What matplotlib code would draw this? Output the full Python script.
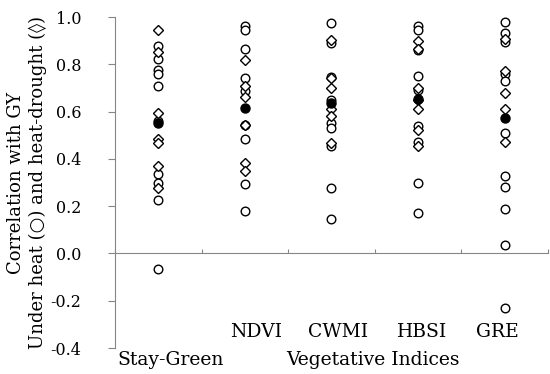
import matplotlib.pyplot as plt

plt.rcParams['font.family'] = ['DejaVu Serif', 'DejaVu Sans']

categories = ['Stay-Green', 'NDVI', 'CWMI', 'HBSI', 'GRE']

# correlations under heat (open circles)
heat = [
    [0.877, 0.823, 0.778, 0.757, 0.710, 0.56, 0.338, 0.296, 0.225, -0.065],
    [0.964, 0.944, 0.863, 0.743, 0.689, 0.545, 0.485, 0.292, 0.178],
    [0.973, 0.888, 0.747, 0.651, 0.553, 0.532, 0.454, 0.278, 0.147],
    [0.964, 0.944, 0.860, 0.750, 0.691, 0.541, 0.471, 0.299, 0.169],
    [0.978, 0.933, 0.894, 0.761, 0.729, 0.510, 0.327, 0.282, 0.189, 0.035, -0.230],
]
# correlations under heat-drought (open diamonds)
heat_drought = [
    [0.944, 0.851, 0.595, 0.485, 0.468, 0.369, 0.278],
    [0.817, 0.708, 0.661, 0.545, 0.383, 0.348],
    [0.902, 0.740, 0.700, 0.609, 0.581, 0.468],
    [0.898, 0.866, 0.700, 0.648, 0.612, 0.521, 0.454],
    [0.908, 0.771, 0.677, 0.613, 0.471],
]
# mean (filled circle)
means = [0.550, 0.616, 0.637, 0.654, 0.574]

yticks = [-0.4, -0.2, 0.0, 0.2, 0.4, 0.6, 0.8, 1.0]

fig = plt.figure(figsize=(5.5, 3.74), dpi=100)
ax = fig.add_axes([0.209, 0.0695, 0.787, 0.885])

for i in range(len(categories)):
    ax.plot([i] * len(heat[i]), heat[i], 'o', ms=6.2, mfc='white', mec='black', mew=1.0, ls='none')
    ax.plot([i] * len(heat_drought[i]), heat_drought[i], 'D', ms=5.4, mfc='white', mec='black', mew=1.0, ls='none')
ax.plot(range(len(categories)), means, 'o', ms=6.5, color='black', ls='none')

ax.set_xlim(-0.5, len(categories) - 0.5)
ax.set_ylim(-0.4, 1.0)
ax.set_yticks(yticks)
ax.set_yticklabels(['%.1f' % v for v in yticks], fontsize=11.5)
ax.set_xticks([k - 0.5 for k in range(len(categories) + 1)])
ax.set_xticklabels([])

for s in ['top', 'right']:
    ax.spines[s].set_visible(False)
ax.spines['bottom'].set_position(('data', 0))
ax.spines['left'].set_color('#868686')
ax.spines['bottom'].set_color('#868686')
ax.tick_params(axis='y', direction='out', length=5, color='#868686', pad=19)
ax.tick_params(axis='x', direction='in', length=3, color='#868686')

ax.set_ylabel('Correlation with GY\nUnder heat (○) and heat-drought (◊)', fontsize=13, linespacing=1.2)
ax.yaxis.set_label_coords(-0.157, 0.5)

# category labels placed as in the original layout
fig.text(256 / 550, 1 - 332 / 374, 'NDVI', ha='center', va='center', fontsize=13.5)
fig.text(338 / 550, 1 - 332 / 374, 'CWMI', ha='center', va='center', fontsize=13.5)
fig.text(422 / 550, 1 - 332 / 374, 'HBSI', ha='center', va='center', fontsize=13.5)
fig.text(497 / 550, 1 - 332 / 374, 'GRE', ha='center', va='center', fontsize=13.5)
fig.text(171 / 550, 1 - 360 / 374, 'Stay-Green', ha='center', va='center', fontsize=13.5)
fig.text(373 / 550, 1 - 360 / 374, 'Vegetative Indices', ha='center', va='center', fontsize=13.5)

fig.savefig('out.png', dpi=100)
